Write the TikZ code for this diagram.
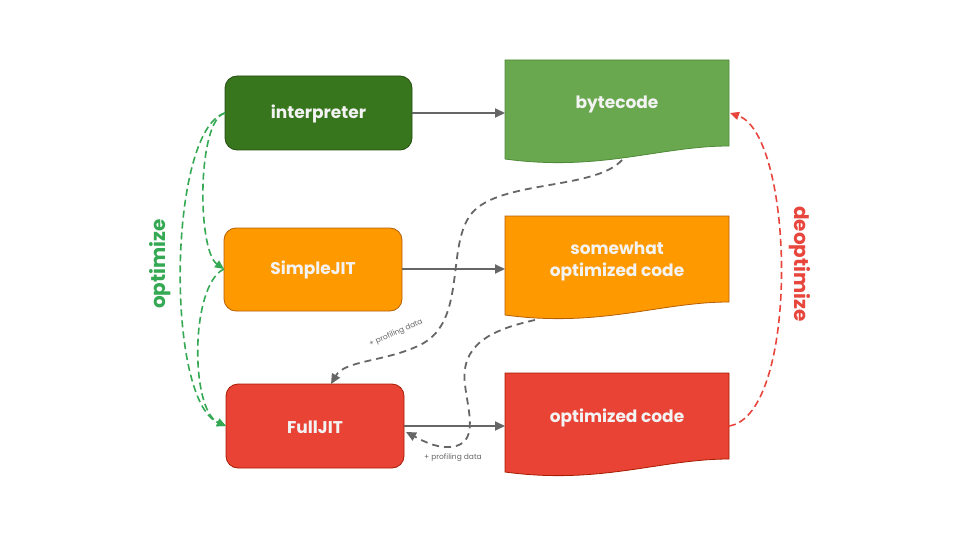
\documentclass[tikz,border=0pt]{standalone}
\usepackage{fontspec}
\setmainfont{Poppins}
\usetikzlibrary{arrows.meta}
\definecolor{dgreen}{HTML}{38761D}
\definecolor{dgreenb}{HTML}{274E13}
\definecolor{lgreen}{HTML}{6AA84F}
\definecolor{lgreenb}{HTML}{4E8A38}
\definecolor{orng}{HTML}{FF9900}
\definecolor{orngb}{HTML}{B45F06}
\definecolor{rd}{HTML}{E94335}
\definecolor{rdb}{HTML}{A61C00}
\definecolor{optgreen}{HTML}{34A853}
\definecolor{deopt}{HTML}{E8453C}
\definecolor{gline}{HTML}{666666}
\definecolor{boxtext}{HTML}{F3F3F3}
\begin{document}
\begin{tikzpicture}[x=1pt,y=-1pt,
  boxlabel/.style={text=boxtext, font=\fontsize{17}{22}\selectfont\bfseries, align=center},
  solidarrow/.style={draw=gline, line width=1.8pt, -{Triangle[length=10pt,width=9pt]}},
  grayDash/.style={draw=gline, line width=1.8pt, dash pattern=on 7pt off 5pt, -{Triangle[length=10pt,width=9pt]}},
  greenDash/.style={draw=optgreen, line width=1.6pt, dash pattern=on 7pt off 4pt, -{Triangle[length=9pt,width=8pt]}},
  redDash/.style={draw=deopt, line width=1.6pt, dash pattern=on 7pt off 4pt, -{Triangle[length=9pt,width=8pt]}},
  small/.style={text=gline, font=\fontsize{7.5}{9}\selectfont, inner sep=1pt}
]
\useasboundingbox (0,0) rectangle (960,540);

% left boxes
\draw[fill=dgreen, draw=dgreenb, rounded corners=12pt, line width=0.8pt] (225,76) rectangle (412,150);
\node[boxlabel] (interp) at (318.5,114) {interpreter};
\draw[fill=orng, draw=orngb, rounded corners=12pt, line width=0.8pt] (224,228) rectangle (402,311);
\node[boxlabel] (sjit) at (313,270) {SimpleJIT};
\draw[fill=rd, draw=rdb, rounded corners=12pt, line width=0.8pt] (226,384) rectangle (404,468);
\node[boxlabel] (fjit) at (315,427) {FullJIT};

\coordinate (interpW) at (225,113);
\coordinate (interpE) at (412,113);
\coordinate (sjitW) at (224,269);
\coordinate (sjitE) at (402,269);
\coordinate (fjitW) at (226,426);
\coordinate (fjitE) at (404,426);
\coordinate (fjitE2) at (406,432);
\coordinate (fjitN) at (331,384);

% documents
\draw[fill=lgreen, draw=lgreenb, line width=0.8pt] (505,60) -- (729,60) -- (729,146)
  .. controls (660,146) and (600,172) .. (505,159) -- cycle;
\node[boxlabel] (bc) at (617,104) {bytecode};
\draw[fill=orng, draw=orngb, line width=0.8pt] (505,216) -- (729,216) -- (729,302)
  .. controls (660,302) and (600,328) .. (505,315) -- cycle;
\node[boxlabel] (soc) at (617,261) {somewhat\\optimized code};
\draw[fill=rd, draw=rdb, line width=0.8pt] (505,373) -- (729,373) -- (729,459)
  .. controls (660,459) and (600,485) .. (505,472) -- cycle;
\node[boxlabel] (oc) at (617,418) {optimized code};

\coordinate (bcW) at (505,113);
\coordinate (bcE) at (730,113);
\coordinate (bcS) at (622,160);
\coordinate (socW) at (505,269);
\coordinate (socS) at (535,320);
\coordinate (ocW) at (505,426);
\coordinate (ocE) at (729,426);

% solid arrows
\draw[solidarrow] (interpE) -- (bcW);
\draw[solidarrow] (sjitE) -- (socW);
\draw[solidarrow] (fjitE) -- (ocW);

% gray dashed profiling
\draw[grayDash] (bcS) .. controls (595,190) and (500,180) .. (472,213)
  .. controls (445,245) and (468,322) .. (420,345)
  .. controls (385,362) and (345,360) .. (fjitN);
\draw[grayDash] (socS) .. controls (490,330) and (460,345) .. (465,385)
  .. controls (468,410) and (478,440) .. (456,446)
  .. controls (440,450) and (425,442) .. (fjitE2);
\node[small, rotate=24] (pd1) at (396,333) {+ profiling data};
\node[small] (pd2) at (453,458) {+ profiling data};

% optimize
\draw[greenDash] (interpW) .. controls (197,120) and (197,250) .. (sjitW);
\draw[greenDash] (interpW) .. controls (168,130) and (165,400) .. (fjitW);
\draw[greenDash] (sjitW) .. controls (190,285) and (190,410) .. (fjitW);
\node[text=optgreen, rotate=90, font=\fontsize{20}{24}\selectfont\bfseries] (optl) at (160,264) {optimize};

% deoptimize
\draw[redDash] (ocE) .. controls (800,415) and (795,135) .. (bcE);
\node[text=deopt, rotate=-90, font=\fontsize{20}{24}\selectfont\bfseries] (deoptl) at (800,264) {deoptimize};
\end{tikzpicture}
\end{document}
